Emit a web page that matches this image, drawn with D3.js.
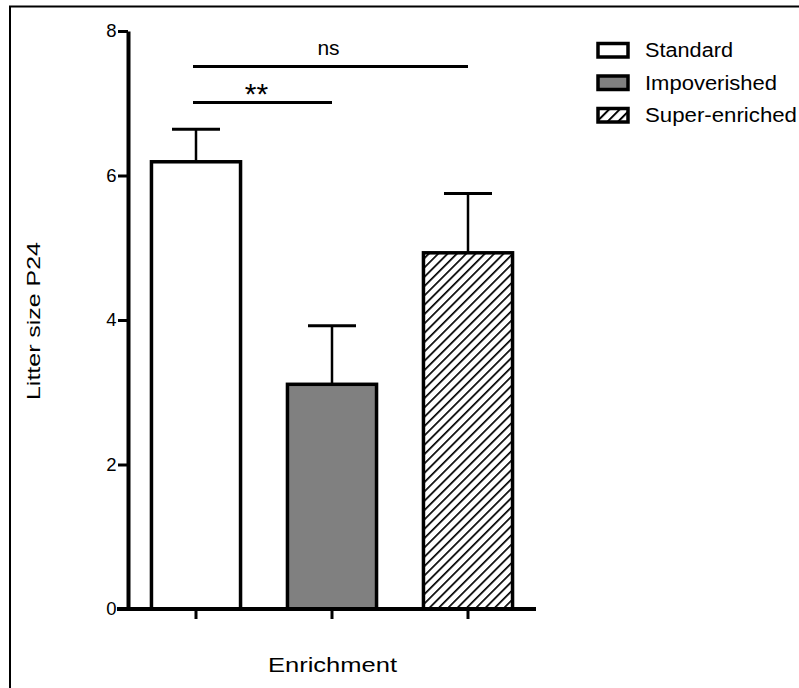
<!DOCTYPE html>
<html>
<head>
<meta charset="utf-8">
<script src="https://cdn.jsdelivr.net/npm/d3@7"></script>
<style>
  body { margin: 0; background: #fff; }
  svg text { font-family: "Liberation Sans", Arial, sans-serif; fill: #000; }
</style>
</head>
<body>
<svg id="chart" width="799" height="688"></svg>
<script>
// bar chart data
var groups = ["Standard", "Impoverished", "Super-enriched"];
var means = [6.19, 3.11, 4.93];
var sems = [0.45, 0.81, 0.82];
var yTicks = [0, 2, 4, 6, 8];
// significance brackets: from group, to group, value level, label
var sigFrom = ["Standard", "Standard"];
var sigTo = ["Impoverished", "Super-enriched"];
var sigLevel = [7.01, 7.51];
var sigLabel = ["**", "ns"];

var svg = d3.select("#chart");

// frame round the figure (only left + top edges show)
svg.append("rect")
    .attr("x", 10).attr("y", 6.5)
    .attr("width", 900).attr("height", 900)
    .attr("fill", "none").attr("stroke", "#000").attr("stroke-width", 2);

var defs = svg.append("defs");
var hatch = defs.append("pattern")
    .attr("id", "hatch")
    .attr("patternUnits", "userSpaceOnUse")
    .attr("width", 6.6).attr("height", 6.6)
    .attr("patternTransform", "rotate(45)");
hatch.append("rect").attr("width", 6.6).attr("height", 6.6).attr("fill", "#fff");
hatch.append("line").attr("x1", 0).attr("y1", 0).attr("x2", 0).attr("y2", 6.6)
    .attr("stroke", "#000").attr("stroke-width", 3.4);

var hatchBig = defs.append("pattern")
    .attr("id", "hatchBig")
    .attr("patternUnits", "userSpaceOnUse")
    .attr("width", 7.5).attr("height", 7.5)
    .attr("patternTransform", "rotate(45)");
hatchBig.append("rect").attr("width", 7.5).attr("height", 7.5).attr("fill", "#fff");
hatchBig.append("line").attr("x1", 0).attr("y1", 0).attr("x2", 0).attr("y2", 7.5)
    .attr("stroke", "#000").attr("stroke-width", 4);

var fills = {"Standard": "#fff", "Impoverished": "#808080", "Super-enriched": "url(#hatch)"};
var legendFills = {"Standard": "#fff", "Impoverished": "#808080", "Super-enriched": "url(#hatchBig)"};

var y = d3.scaleLinear().domain([0, 8]).range([609, 31]);
var x = d3.scaleBand().domain(groups).range([128, 536])
    .paddingInner(0.345).paddingOuter(0.1725);

// bars
svg.selectAll("rect.bar")
    .data(groups)
    .enter().append("rect")
    .attr("class", "bar")
    .attr("x", function (d) { return x(d); })
    .attr("y", function (d, i) { return y(means[i]); })
    .attr("width", x.bandwidth())
    .attr("height", function (d, i) { return y(0) - y(means[i]); })
    .attr("fill", function (d) { return fills[d]; })
    .attr("stroke", "#000").attr("stroke-width", 3.5);

// error bars (upper only)
var capHalf = 24;
groups.forEach(function (g, i) {
    var cx = x(g) + x.bandwidth() / 2;
    svg.append("line")
        .attr("x1", cx).attr("x2", cx)
        .attr("y1", y(means[i])).attr("y2", y(means[i] + sems[i]))
        .attr("stroke", "#000").attr("stroke-width", 2.5);
    svg.append("line")
        .attr("x1", cx - capHalf).attr("x2", cx + capHalf)
        .attr("y1", y(means[i] + sems[i])).attr("y2", y(means[i] + sems[i]))
        .attr("stroke", "#000").attr("stroke-width", 3);
});

// y axis
var yAxis = svg.append("g")
    .attr("transform", "translate(128,0)")
    .call(d3.axisLeft(y).tickValues(yTicks).tickSize(10).tickSizeOuter(0).tickPadding(1.5));
yAxis.select(".domain").attr("stroke-width", 4);
yAxis.selectAll(".tick line").attr("stroke-width", 3);
yAxis.selectAll(".tick text")
    .style("font-size", "18.5px")
    .style("font-family", "Liberation Sans, Arial, sans-serif");

// x axis
var xAxis = svg.append("g")
    .attr("transform", "translate(0,609)")
    .call(d3.axisBottom(x).tickSize(10).tickSizeOuter(0).tickFormat(""));
xAxis.select(".domain").remove();
xAxis.append("line").attr("x1", 117).attr("x2", 536).attr("y1", 0).attr("y2", 0)
    .attr("stroke", "#000").attr("stroke-width", 4);
xAxis.selectAll(".tick line").attr("stroke-width", 3);

// significance lines
sigLabel.forEach(function (lab, i) {
    var x1 = x(sigFrom[i]) + x.bandwidth() / 2 - 3;
    var x2 = x(sigTo[i]) + x.bandwidth() / 2;
    var ly = y(sigLevel[i]);
    svg.append("line")
        .attr("x1", x1).attr("x2", x2).attr("y1", ly).attr("y2", ly)
        .attr("stroke", "#000").attr("stroke-width", 3);
    var t = svg.append("text")
        .attr("text-anchor", "middle")
        .attr("x", (x1 + x2) / 2 - (lab == "**" ? 6 : 2))
        .text(lab);
    if (lab == "**") {
        t.attr("y", ly + 1).style("font-size", "30px");
    } else {
        t.attr("y", ly - 11.5).style("font-size", "21px");
    }
});

// axis titles
svg.append("text")
    .attr("x", 332.5).attr("y", 672)
    .attr("text-anchor", "middle")
    .attr("textLength", 129).attr("lengthAdjust", "spacingAndGlyphs")
    .style("font-size", "20px")
    .text("Enrichment");

svg.append("text")
    .attr("transform", "translate(40,321) rotate(-90)")
    .attr("text-anchor", "middle")
    .attr("textLength", 158).attr("lengthAdjust", "spacingAndGlyphs")
    .style("font-size", "19px")
    .text("Litter size P24");

// legend
var legendLen = [88, 132, 152];
var legend = svg.selectAll("g.leg")
    .data(groups)
    .enter().append("g")
    .attr("class", "leg")
    .attr("transform", function (d, i) { return "translate(598," + (43.5 + i * 32.5) + ")"; });
legend.append("rect")
    .attr("width", 30).attr("height", 13.5)
    .attr("fill", function (d) { return legendFills[d]; })
    .attr("stroke", "#000").attr("stroke-width", 3.5);
legend.append("text")
    .attr("x", 47).attr("y", 13.5)
    .attr("textLength", function (d, i) { return legendLen[i]; })
    .attr("lengthAdjust", "spacingAndGlyphs")
    .style("font-size", "19.5px")
    .text(function (d) { return d; });
</script>
</body>
</html>
